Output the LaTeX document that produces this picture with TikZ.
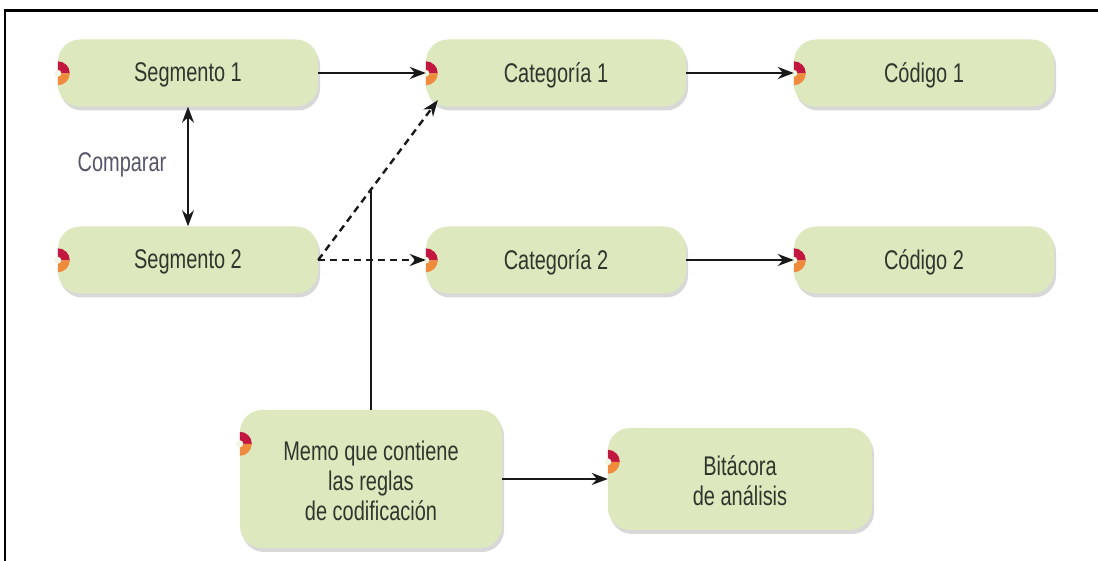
\documentclass[tikz,border=0pt]{standalone}
\usepackage{fontspec}
\setmainfont{Liberation Sans}
\usepackage{graphicx}
\usetikzlibrary{arrows.meta,shadows,calc}
\definecolor{boxfill}{HTML}{DDE8BE}
\definecolor{txt}{HTML}{30362C}
\definecolor{lbltxt}{HTML}{55566A}
\definecolor{crRed}{HTML}{C2173F}
\definecolor{crOrange}{HTML}{F08A3C}
\newcommand\sx[1]{\scalebox{0.74}[1]{#1}}
\newcommand\dn[2]{\raisebox{-#1}[\height][\depth]{#2}}
\newcommand\crescent[1]{%
  \fill[crRed] #1 ++(0,12pt) arc[start angle=90,end angle=0,radius=12pt] -- #1 -- cycle;
  \fill[crOrange] #1 -- ++(12pt,0) arc[start angle=0,end angle=-90,radius=12pt] -- cycle;
  \fill[boxfill!40!white] #1 circle[radius=3.5pt];
}
\tikzset{
  box/.style={rectangle, rounded corners=22pt, fill=boxfill, minimum width=260pt,
    minimum height=67pt, text=txt, font=\fontsize{27}{30}\selectfont, inner sep=0pt,
    drop shadow={shadow xshift=2pt, shadow yshift=-4pt, opacity=0.25, fill=black!60}},
  lbl/.style={text=lbltxt, font=\fontsize{27}{30}\selectfont, inner sep=0pt},
  arr/.style={draw=black!90, line width=2pt, -{Stealth[length=16pt,width=12pt]}},
  darr/.style={arr, line width=2.4pt, dash pattern=on 7pt off 5pt},
  plainline/.style={draw=black!90, line width=1.6pt},
  frameline/.style={draw=black, line width=3pt}
}
\begin{document}
\begin{tikzpicture}[x=1pt,y=1pt]
\useasboundingbox (0,0) rectangle (1098,561);
\fill[white] (0,0) rectangle (1098,561);
% frame
\draw[frameline] (3.5,550) -- (1098,550);
\draw[frameline, line width=2.5pt] (5,551.5) -- (5,0);

% nodes
\node[box] (seg1) at (188,488) {\dn{2pt}{\sx{Segmento 1}}};
\node[box] (cat1) at (556,488) {\dn{2pt}{\sx{Categoría 1}}};
\node[box] (cod1) at (924,488) {\dn{2pt}{\sx{Código 1}}};
\node[box] (seg2) at (188,301) {\dn{2pt}{\sx{Segmento 2}}};
\node[box] (cat2) at (556,301) {\dn{2pt}{\sx{Categoría 2}}};
\node[box] (cod2) at (924,301) {\dn{2pt}{\sx{Código 2}}};
\node[box, minimum width=262pt, minimum height=138pt] (memo) at (371,82)
  {\dn{6pt}{\sx{\begin{tabular}{@{}c@{}}Memo que contiene\\las reglas\\de codificación\end{tabular}}}};
\node[box, minimum width=264pt, minimum height=102pt] (bita) at (740,82)
  {\dn{6pt}{\sx{\begin{tabular}{@{}c@{}}Bitácora\\de análisis\end{tabular}}}};
\node[lbl] (cmp) at (122,396) {\sx{Comparar}};

% markers
\foreach \n in {seg1,cat1,cod1,seg2,cat2,cod2,memo,bita}{
  \crescent{([yshift=-34pt]\n.north west)}
}

% connectors
\draw[arr] (seg1) -- (cat1);
\draw[arr] (cat1) -- (cod1);
\draw[arr] (cat2) -- (cod2);
\draw[arr] (memo) -- (bita);
\draw[arr, {Stealth[length=16pt,width=12pt]}-{Stealth[length=16pt,width=12pt]}] (seg1) -- (seg2);
\coordinate (c1t) at ([shift={(12pt,6.5pt)}]cat1.south west);
\draw[darr] (seg2.east) -- (cat2.west);
\draw[darr] (seg2.east) -- (c1t);
\coordinate (j) at ($(seg2.east)!0.445!(c1t)$);
\draw[plainline] (memo.north) -- (memo.north |- j);
\end{tikzpicture}
\end{document}
